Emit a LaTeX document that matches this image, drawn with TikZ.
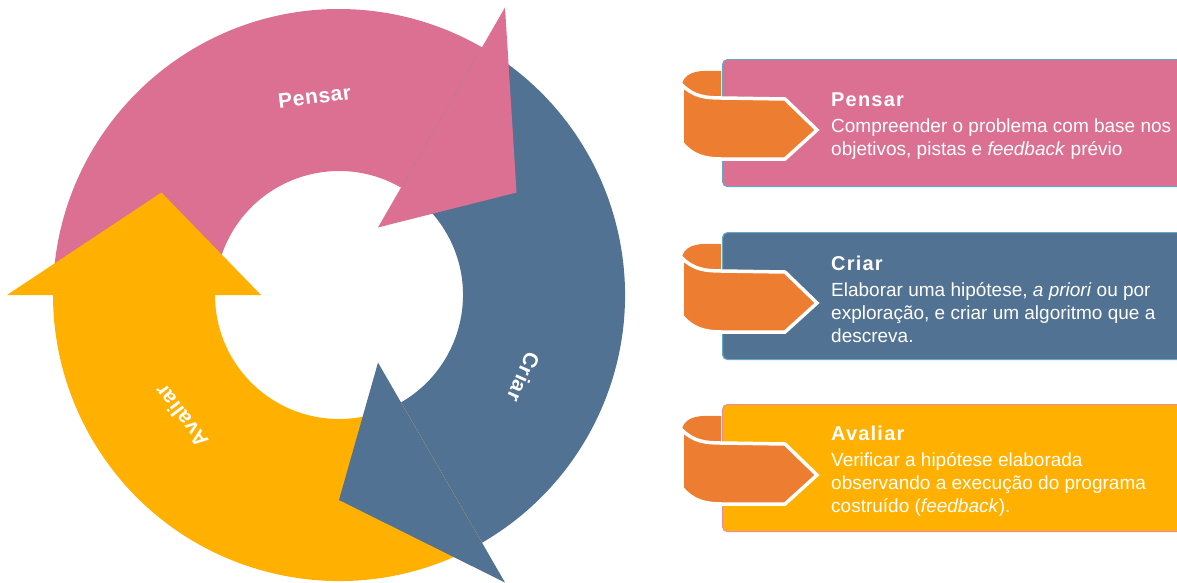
\documentclass[tikz,border=0pt]{standalone}
\usepackage{fontspec}
\setmainfont{Liberation Sans}
\usetikzlibrary{positioning}

\definecolor{thinkpink}{HTML}{DC7092}
\definecolor{makeblue}{HTML}{527294}
\definecolor{checkgold}{HTML}{FFB000}
\definecolor{taborange}{HTML}{ED7D31}
\definecolor{edgeblue}{HTML}{64A8C8}
\definecolor{edgepink}{HTML}{E88CA6}

\newcommand{\cardtitle}[1]{{\fontsize{20}{23}\selectfont\bfseries\addfontfeatures{LetterSpace=6}#1}}

\begin{document}
\begin{tikzpicture}[
    x=1pt, y=1pt,
    lbl/.style={text=white, inner sep=0pt,
      font=\fontsize{21}{21}\selectfont\bfseries\addfontfeatures{LetterSpace=3}},
    card/.style={
      rectangle, rounded corners=5pt, line width=1.2pt,
      minimum width=600pt, minimum height=127pt, anchor=north west
    },
    desc/.style={text=white, align=left, inner sep=0pt, anchor=west,
      font=\fontsize{19}{23}\selectfont},
    tab/.style={fill=taborange, draw=white, line width=3.5pt},
  ]
  \useasboundingbox (0,0) rectangle (1177,-582);
  \clip (0,0) rectangle (1177,-582);

  % cycle of three arrows: bands first, heads on top
  \begin{scope}[shift={(339,-295)}]
    \foreach \a/\col in {60/thinkpink, -60/makeblue, 180/checkgold}
      \fill[\col] (\a+120:124) -- (\a+120:286)
        arc[start angle=\a+120, end angle=\a, radius=286pt]
        -- (\a:124) arc[start angle=\a, end angle=\a+120, radius=124pt] -- cycle;
    \foreach \a/\col in {60/thinkpink, -60/makeblue, 180/checkgold}
      \fill[\col] (\a:78) -- (\a:332) -- (\a-30:205) -- cycle;

    \node[lbl, rotate=7] (pensarlbl) at (97:200) {Pensar};
    \node[lbl, rotate=-114] (criarlbl) at (-24:202) {Criar};
    \node[lbl, rotate=127.5] (avaliarlbl) at (217.5:199) {Avaliar};
  \end{scope}

  % step cards
  \node[card, fill=thinkpink, draw=edgeblue] (pensar) at (722,-59) {};
  \node[card, fill=makeblue, draw=edgeblue] (criar) at (722,-232) {};
  \node[card, fill=checkgold, draw=edgepink] (avaliar) at (722,-404) {};

  % folded orange tabs
  \foreach \c in {pensar, criar, avaliar} {
    \begin{scope}[shift={(\c.north west)}]
      \fill[taborange] (-40,-25) to[out=75, in=180] (-1,-12) -- (-1,-40) -- (-40,-40) -- cycle;
      \draw[tab] (-40,-26) to[out=-45, in=180] (0,-39) -- (63,-40) -- (95,-71)
        -- (63,-100) -- (0,-100) to[out=180, in=-50] (-40,-84) -- cycle;
    \end{scope}
  }

  \node[desc] (pensartxt) at ([xshift=109pt, yshift=-3pt]pensar.west) {
    \cardtitle{Pensar}\\[3pt]
    Compreender o problema com base nos\\
    objetivos, pistas e \textit{feedback} prévio
  };
  \node[desc] (criartxt) at ([xshift=109pt, yshift=-3pt]criar.west) {
    \cardtitle{Criar}\\[3pt]
    Elaborar uma hipótese, \textit{a priori} ou por\\
    exploração, e criar um algoritmo que a\\
    descreva.
  };
  \node[desc] (avaliartxt) at ([xshift=109pt, yshift=-3pt]avaliar.west) {
    \cardtitle{Avaliar}\\[3pt]
    Verificar a hipótese elaborada\\
    observando a execução do programa\\
    costruído (\textit{feedback}).
  };
\end{tikzpicture}
\end{document}
